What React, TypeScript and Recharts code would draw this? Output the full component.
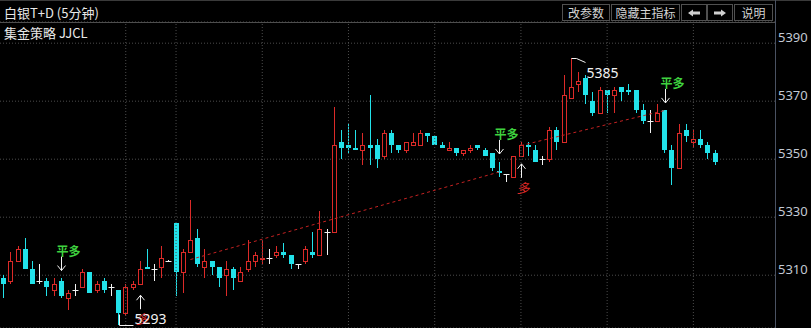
import { ComposedChart, Bar, Line, XAxis, YAxis, CartesianGrid, ReferenceLine, ReferenceDot } from 'recharts';

// 5-minute candles (oldest first)
const opens = [
  5309, 5308, 5315, 5319, 5312, 5308, 5308, 5305, 5308, 5302,
  5305, 5306, 5311, 5305, 5308, 5306, 5305, 5297, 5306, 5307,
  5313, 5312, 5313, 5315, 5328, 5311, 5318, 5323, 5313, 5315,
  5313, 5310, 5312, 5308, 5312, 5315, 5315.5, 5316, 5317, 5318,
  5317, 5314, 5315, 5318, 5317, 5325, 5325, 5356, 5355, 5354,
  5353, 5355, 5355, 5351, 5359, 5355, 5353, 5355, 5355, 5359,
  5358, 5355, 5353, 5354, 5352, 5353, 5355, 5353, 5352, 5346,
  5345, 5344, 5351, 5355, 5353, 5350, 5350, 5360, 5356, 5371,
  5376, 5378, 5370, 5366, 5374, 5372, 5375, 5374, 5374, 5367,
  5363, 5363, 5367, 5353, 5347, 5360, 5356, 5357, 5355, 5352,
];
const highs = [
  5310, 5318, 5320, 5323, 5315, 5314, 5309, 5309, 5309, 5305,
  5307, 5312, 5311, 5308, 5309, 5307, 5305, 5307, 5308, 5315,
  5319, 5314, 5320, 5315.3, 5328, 5319, 5336, 5326, 5319, 5315,
  5313, 5315, 5313, 5313, 5322, 5318, 5322, 5319, 5320, 5321,
  5317, 5314, 5320, 5325, 5332, 5326, 5368, 5360, 5362, 5360,
  5359, 5372, 5357, 5360, 5360, 5355, 5356, 5359, 5360, 5359,
  5358, 5356, 5356, 5354, 5353, 5355, 5355, 5354, 5352, 5349,
  5345, 5351, 5356, 5356, 5355, 5351, 5361, 5361, 5379, 5385,
  5380, 5379, 5373, 5375, 5374, 5375, 5375, 5376, 5374, 5369,
  5367, 5369, 5367, 5355, 5362, 5362, 5360, 5360, 5356, 5353,
];
const lows = [
  5302, 5307, 5315, 5312, 5307, 5307, 5303, 5303, 5302, 5298,
  5303, 5306, 5304, 5304, 5304, 5303, 5293, 5296, 5305, 5307,
  5312, 5308, 5309, 5314.9, 5303, 5304, 5318, 5313, 5309, 5310,
  5306, 5303, 5305, 5308, 5311, 5313, 5314, 5314, 5316, 5316,
  5312, 5312, 5314, 5316, 5317, 5317, 5325, 5350, 5352, 5353,
  5348, 5348, 5347, 5350, 5352, 5352, 5352, 5355, 5355, 5356,
  5355, 5354, 5353, 5351, 5351, 5352, 5353, 5351, 5346, 5344,
  5342, 5344, 5351, 5351, 5349, 5348, 5349, 5353, 5356, 5371,
  5373, 5369, 5365, 5366, 5366, 5366, 5370, 5372, 5366, 5362,
  5359, 5363, 5352, 5341, 5347, 5356, 5354, 5354, 5350, 5348,
];
const closes = [
  5307, 5315, 5319, 5312, 5307, 5308, 5306, 5307, 5303, 5304,
  5305, 5311, 5304, 5307, 5305, 5306, 5297, 5306, 5307, 5312,
  5312, 5312, 5316, 5315, 5311, 5318, 5322, 5314, 5315, 5313,
  5309, 5312, 5309, 5311, 5315, 5317, 5316, 5316, 5318, 5317,
  5314, 5314, 5319, 5317, 5326, 5325, 5355, 5354, 5354, 5353,
  5355, 5354, 5350, 5359, 5355, 5353, 5356, 5356, 5359, 5358,
  5355, 5354, 5354, 5352, 5353, 5354, 5354, 5351, 5347, 5345.5,
  5345, 5351, 5355, 5354.5, 5349, 5350, 5360, 5356, 5372, 5375,
  5377, 5372, 5366, 5374, 5372, 5374, 5373, 5373, 5367, 5363,
  5363, 5366, 5353, 5347, 5359, 5358, 5357, 5355, 5352, 5349,
];

// strategy signals
const signalIdx = [8, 19, 69, 72, 92];
const signalText = ['平多', '多', '平多', '多', '平多'];
const signalPrice = [5311.6, 5303.1, 5351.8, 5348.4, 5369.4];

// trade lines (entry -> exit)
const tradeFrom = [26, 72];
const tradeFromPrice = [5315.4, 5354.7];
const tradeTo = [69, 92];
const tradeToPrice = [5345.6, 5366.8];

// session extremes
const extremeIdx = [16, 79];
const extremeVal = [5293, 5385];

const priceTicks = [5310, 5330, 5350, 5370, 5390];
const hourMarks = [17, 24, 36, 48, 60, 72, 84, 96];
const SLOTS = 108;

const RED = '#dc2a28';
const CYAN = '#22e2ea';
const WHITE = '#f2f2f2';
const GRID = '#4c4c4c';
const CJK = '"Noto Sans CJK SC", "Noto Sans", sans-serif';

const data = Array.from({ length: SLOTS }, (_, i) => {
  const row: any = { i };
  if (i < opens.length) {
    row.o = opens[i];
    row.h = highs[i];
    row.l = lows[i];
    row.c = closes[i];
  }
  tradeFrom.forEach((f, k) => {
    if (i === f) row['t' + k] = tradeFromPrice[k];
    if (i === tradeTo[k]) row['t' + k] = tradeToPrice[k];
  });
  return row;
});

function Candle(props: any) {
  const { x, y, width, height, payload } = props;
  if (!payload || payload.o == null) return null;
  const { o, h, l, c } = payload;
  const top = Math.min(y, y + height);
  const span = h - l || 1;
  const py = (v: number) => top + ((h - v) / span) * Math.abs(height);
  const cx = Math.floor(x + width / 2) + 0.5;
  const hi = Math.round(py(h));
  const lo = Math.round(py(l));
  const bTop = Math.round(py(Math.max(o, c)));
  const bBot = Math.round(py(Math.min(o, c)));

  if (c === o) {
    return (
      <g>
        {lo > hi && <line x1={cx} x2={cx} y1={hi} y2={lo} stroke={WHITE} />}
        <line x1={cx - 3} x2={cx + 3} y1={bTop + 0.5} y2={bTop + 0.5} stroke={WHITE} />
      </g>
    );
  }
  if (c > o) {
    return (
      <g>
        {bTop > hi && <line x1={cx} x2={cx} y1={hi} y2={bTop} stroke={RED} />}
        {lo > bBot && <line x1={cx} x2={cx} y1={bBot} y2={lo} stroke={RED} />}
        <rect x={cx - 2} y={bTop + 0.5} width={4} height={Math.max(bBot - bTop, 1)} fill="#000" stroke={RED} />
      </g>
    );
  }
  return (
    <g>
      {lo > hi && <line x1={cx} x2={cx} y1={hi} y2={lo} stroke={CYAN} />}
      <rect x={cx - 2.5} y={bTop} width={5} height={Math.max(bBot - bTop, 2)} fill={CYAN} />
    </g>
  );
}

function PriceTick(props: any) {
  const { x, y, payload } = props;
  return (
    <text x={x + 1} y={y - 1.5} fill="#c3c9d4" fontSize={13} fontFamily='"Noto Sans", sans-serif'>
      {payload.value}
    </text>
  );
}

function signalShape(label: string) {
  return (p: any) => {
    const ax = Math.round(p.cx) + 0.5;
    const cy = p.cy;
    if (label === '平多') {
      return (
        <g>
          <line x1={ax} x2={ax} y1={cy - 14} y2={cy} stroke={WHITE} />
          <polyline points={`${ax - 4},${cy - 5} ${ax},${cy} ${ax + 4},${cy - 5}`} fill="none" stroke={WHITE} />
          <text x={ax - 5} y={cy - 15} fill="#3fd23f" fontSize={12} fontWeight="bold" fontFamily={CJK}>
            {label}
          </text>
        </g>
      );
    }
    return (
      <g>
        <line x1={ax} x2={ax} y1={cy} y2={cy + 14} stroke={WHITE} />
        <polyline points={`${ax - 4},${cy + 5} ${ax},${cy} ${ax + 4},${cy + 5}`} fill="none" stroke={WHITE} />
        <text x={ax - 5} y={cy + 29} fill={RED} fontSize={13} fontStyle="italic" fontFamily={CJK}>
          {label}
        </text>
      </g>
    );
  };
}

function lowShape(p: any) {
  const cx = Math.round(p.cx) + 0.5;
  const cy = Math.round(p.cy) + 0.5;
  return (
    <g>
      <polyline points={`${cx},${cy - 11} ${cx},${cy} ${cx + 14},${cy}`} fill="none" stroke={WHITE} />
      <text x={cx + 15} y={cy - 2} fill={WHITE} fontSize={14} fontFamily='"Noto Sans", sans-serif'>
        {extremeVal[0]}
      </text>
    </g>
  );
}

function highShape(p: any) {
  const cx = Math.round(p.cx) + 0.5;
  const cy = Math.round(p.cy) + 0.5;
  return (
    <g>
      <polyline points={`${cx},${cy} ${cx + 5},${cy} ${cx + 14},${cy + 4}`} fill="none" stroke={WHITE} />
      <text x={cx + 15} y={cy + 19} fill={WHITE} fontSize={14} fontFamily='"Noto Sans", sans-serif'>
        {extremeVal[1]}
      </text>
    </g>
  );
}

const buttons = [
  { label: '改参数', x: 562, w: 48 },
  { label: '隐藏主指标', x: 611, w: 69 },
  { label: 'left', x: 681, w: 26 },
  { label: 'right', x: 707, w: 26 },
  { label: '说明', x: 734, w: 39 },
];

function ArrowIcon({ dir }: { dir: string }) {
  const pts = '1,4 6,0.5 6,2.5 13,2.5 13,5.5 6,5.5 6,7.5';
  return (
    <svg width={14} height={8} style={{ display: 'block', transform: dir === 'right' ? 'scaleX(-1)' : undefined }}>
      <polygon points={pts} fill="#cfcfcf" />
    </svg>
  );
}

export default function App() {
  return (
    <div style={{ position: 'fixed', left: 0, top: 0, width: 811, height: 328, background: '#000', overflow: 'hidden' }}>
      <div style={{ position: 'absolute', left: 0, top: 0 }}>
        <ComposedChart width={811} height={328} data={data} margin={{ top: 22, right: 0, bottom: 0, left: 0 }}>
          <CartesianGrid vertical={false} stroke={GRID} strokeDasharray="1 2" />
          <XAxis dataKey="i" type="category" hide />
          <YAxis
            orientation="right"
            width={35}
            domain={[5291.8, 5397.3]}
            allowDataOverflow
            ticks={priceTicks}
            axisLine={false}
            tickLine={false}
            tickSize={0}
            tickMargin={1}
            tick={<PriceTick />}
          />
          {hourMarks.map((m) => (
            <ReferenceLine key={m} x={m} stroke={GRID} strokeDasharray="1 2" />
          ))}
          {tradeFrom.map((_, k) => (
            <Line
              key={k}
              dataKey={'t' + k}
              stroke="#c42222"
              strokeDasharray="3 3"
              dot={false}
              connectNulls
              isAnimationActive={false}
            />
          ))}
          <Bar
            dataKey={(d: any) => (d.h == null ? null : [d.l, d.h])}
            shape={<Candle />}
            isAnimationActive={false}
          />
          {signalIdx.map((s, k) => (
            <ReferenceDot key={k} x={s} y={signalPrice[k]} r={0} shape={signalShape(signalText[k])} />
          ))}
          <ReferenceDot x={extremeIdx[0]} y={extremeVal[0]} r={0} shape={lowShape} />
          <ReferenceDot x={extremeIdx[1]} y={extremeVal[1]} r={0} shape={highShape} />
        </ComposedChart>
      </div>

      {/* chrome: borders, title, buttons */}
      <div style={{ position: 'absolute', left: 0, top: 0, width: 811, height: 1, background: '#3a3a3a' }} />
      <div style={{ position: 'absolute', left: 0, top: 22, width: 776, height: 1, background: '#4e4e4e' }} />
      <div style={{ position: 'absolute', left: 775, top: 0, width: 1, height: 328, background: '#4a5262' }} />
      <div style={{ position: 'absolute', left: 4, top: 4, fontSize: 13, lineHeight: '18px', color: '#e8e8e8', fontFamily: CJK, whiteSpace: 'nowrap' }}>
        白银T+D (5分钟)
      </div>
      <div style={{ position: 'absolute', left: 4, top: 24, fontSize: 13, lineHeight: '18px', color: '#e8e8e8', fontFamily: CJK, whiteSpace: 'nowrap' }}>
        集金策略 JJCL
      </div>
      {buttons.map((b) => (
        <div
          key={b.label}
          style={{
            position: 'absolute',
            left: b.x,
            top: 4,
            width: b.w,
            height: 17,
            boxSizing: 'border-box',
            border: '1px solid #505050',
            color: '#d4d4d4',
            fontSize: 12,
            fontFamily: CJK,
            display: 'flex',
            alignItems: 'center',
            justifyContent: 'center',
            whiteSpace: 'nowrap',
          }}
        >
          {b.label === 'left' || b.label === 'right' ? <ArrowIcon dir={b.label} /> : b.label}
        </div>
      ))}
    </div>
  );
}
